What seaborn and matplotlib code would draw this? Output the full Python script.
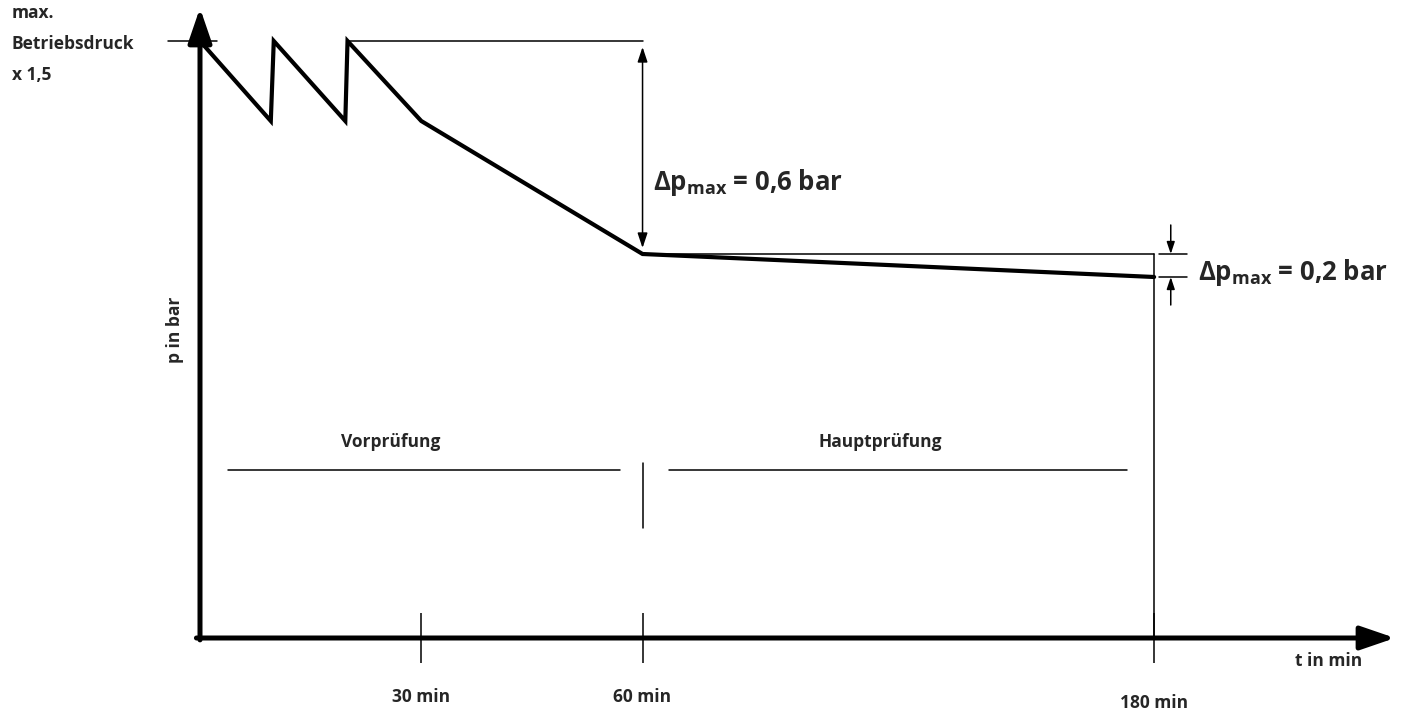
import numpy as np
import pandas as pd
import matplotlib
matplotlib.use("Agg")
import matplotlib.pyplot as plt
import matplotlib.transforms as mtransforms
import seaborn as sns

# ---------------- data ----------------
time_min = [0, 9.6, 10, 19.7, 20, 30, 60, 180]
pressure = [5.97, 5.17, 5.97, 5.17, 5.97, 5.17, 3.84, 3.61]
tick_times = [30, 60, 180]
tick_labels = ["30 min", "60 min", "180 min"]
phase_names = ["Vorprüfung", "Hauptprüfung"]
phase_label_t = [25.8, 115.8]
phase_line_start = [3.8, 66.1]
phase_line_end = [57.0, 173.6]
dp_labels = ["0,6", "0,2"]

# ---------------- style ----------------
sns.set_theme(style="white")
plt.rcParams["font.family"] = ["Open Sans", "DejaVu Sans"]
plt.rcParams["font.weight"] = "bold"

W, H = 1415, 713
fig = plt.figure(figsize=(W / 100, H / 100), dpi=100)
ax = fig.add_axes([200 / W, (H - 638) / H, (1395 - 200) / W, (638 - 8) / H])

K = 0.578
def fwd(t):
    t = np.asarray(t, dtype=float)
    return np.where(t <= 60, t, 60 + (t - 60) * K)
def inv(u):
    u = np.asarray(u, dtype=float)
    return np.where(u <= 60, u, 60 + (u - 60) / K)
ax.set_xscale("function", functions=(fwd, inv))
ax.set_xlim(0, 236.5)
ax.set_ylim(0, 6.30)

df = pd.DataFrame({"t": time_min, "p": pressure})
sns.lineplot(data=df, x="t", y="p", sort=False, estimator=None, color="black",
             lw=3.0, ax=ax, solid_joinstyle="miter", clip_on=False)

for s in ax.spines.values():
    s.set_visible(False)
ax.set_xlabel("")
ax.set_ylabel("")
ax.set_yticks([])

# x ticks
ax.set_xticks(tick_times, tick_labels)
ax.tick_params(axis="x", direction="inout", length=36, width=1.1, color="black",
               pad=18, labelsize=12.5, bottom=True)
for lab in ax.get_xticklabels():
    lab.set_fontweight("bold")
ax.get_xticklabels()[2].set_y(-0.01)

# axis arrows
arr = dict(arrowstyle="-|>,head_length=1.05,head_width=0.36", mutation_scale=20,
           lw=3.6, color="black", shrinkA=0, shrinkB=0)
ax.annotate("", xy=(1, 0), xytext=(-0.003, 0), xycoords="axes fraction",
            arrowprops=arr, annotation_clip=False)
ax.annotate("", xy=(0, 1), xytext=(0, -0.003), xycoords="axes fraction",
            arrowprops=arr, annotation_clip=False)

pmax = pressure[0]
p60 = pressure[6]
p180 = pressure[7]
thin = dict(color="black", lw=1.1, clip_on=False)

# max tick
bt = mtransforms.blended_transform_factory(ax.transAxes, ax.transData)
ax.plot([-32 / 1195, 17 / 1195], [pmax, pmax], transform=bt, **thin)
# top reference line
ax.plot([20, 60], [pmax, pmax], **thin)
# box to 180
ax.plot([60, 180], [p60, p60], **thin)
ax.plot([180, 180], [p60, 0], **thin)

# delta p 0.6 double arrow
ax.annotate("", xy=(60, p60 + 0.06), xytext=(60, pmax - 0.06),
            arrowprops=dict(arrowstyle="<|-|>,head_length=0.6,head_width=0.2",
                            mutation_scale=15, lw=1.1, color="black",
                            shrinkA=0, shrinkB=0))
# delta p 0.2 marks
ax.plot([181.1, 187.7], [p60, p60], **thin)
ax.plot([181.1, 187.7], [p180, p180], **thin)
small = dict(arrowstyle="-|>,head_length=0.6,head_width=0.2", mutation_scale=12,
             lw=1.1, color="black", shrinkA=0, shrinkB=0)
ax.annotate("", xy=(183.9, p60), xytext=(183.9, p60 + 0.29), arrowprops=small,
            annotation_clip=False)
ax.annotate("", xy=(183.9, p180), xytext=(183.9, p180 - 0.28), arrowprops=small,
            annotation_clip=False)

# phases
for name, tl, t0, t1 in zip(phase_names, phase_label_t, phase_line_start, phase_line_end):
    ax.plot([t0, t1], [1.68, 1.68], **thin)
    ax.text(tl, 1.96, name, ha="center", va="center", fontsize=12.5, fontweight="bold")
ax.plot([60, 60], [1.10, 1.75], **thin)

# delta labels
ax.text(62.4, 4.55, r"Δp$_{\mathregular{max}}$ = " + dp_labels[0] + " bar",
        ha="left", va="center", fontsize=18.5, fontweight="bold")
ax.text(190.3, 3.66, r"Δp$_{\mathregular{max}}$ = " + dp_labels[1] + " bar",
        ha="left", va="center", fontsize=18.5, fontweight="bold")

# axis labels
def px(x, y):
    return x / W, 1 - y / H
fig.text(*px(12, 44), "max.\nBetriebsdruck\nx 1,5", ha="left", va="center",
         fontsize=12.5, fontweight="bold", linespacing=1.95)
fig.text(*px(175, 330), "p in bar", ha="center", va="center", rotation=90,
         fontsize=12.5, fontweight="bold")
fig.text(*px(1362, 661), "t in min", ha="right", va="center",
         fontsize=12.5, fontweight="bold")

fig.savefig("out.png", dpi=100)
